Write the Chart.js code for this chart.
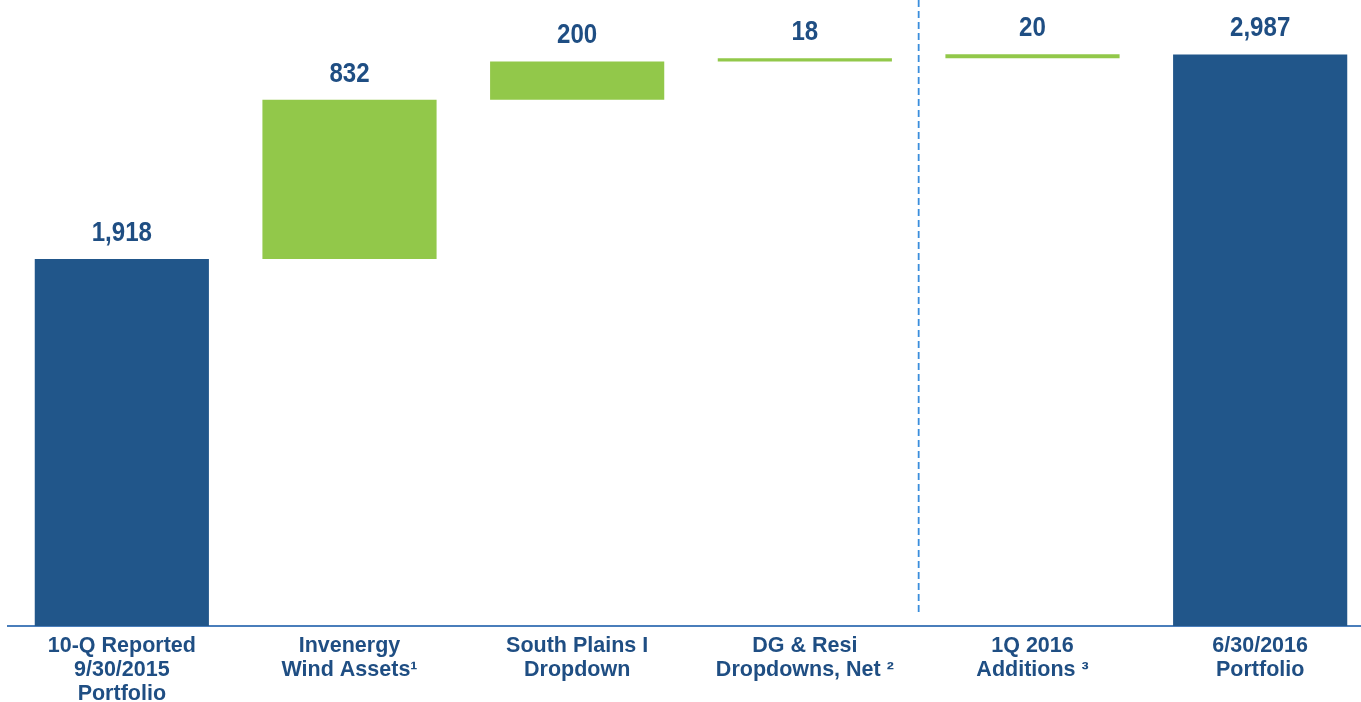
<!DOCTYPE html>
<html>
<head>
<meta charset="utf-8">
<script src="https://cdn.jsdelivr.net/npm/chart.js@4.4.1/dist/chart.umd.min.js"></script>
<style>
  html, body { margin: 0; padding: 0; background: #ffffff; overflow: hidden; }
  #wrap { position: relative; width: 1361px; height: 702px; overflow: hidden; }
  canvas { display: block; }
</style>
</head>
<body>
<div id="wrap"><canvas id="c" width="1374" height="710"></canvas></div>
<script>
// ---- data ----
const categories = [
  ["10-Q Reported", "9/30/2015", "Portfolio"],
  ["Invenergy", "Wind Assets\u00B9"],
  ["South Plains I", "Dropdown"],
  ["DG & Resi", "Dropdowns, Net \u00B2"],
  ["1Q 2016", "Additions \u00B3"],
  ["6/30/2016", "Portfolio"]
];
const values = [1918, 832, 200, 18, 20, 2987];
const kinds = ["total", "delta", "delta", "delta", "delta", "total"];
const valueLabels = ["1,918", "832", "200", "18", "20", "2,987"];

// build floating ranges (waterfall)
const ranges = [];
let running = 0;
values.forEach((v, i) => {
  if (kinds[i] === "total") { ranges.push([0, v]); running = v; }
  else { ranges.push([running, running + v]); running += v; }
});

const BLUE = "#21568A";
const GREEN = "#92C84A";
const TEXT = "#1F4E83";
const FONT = "'Liberation Sans', Arial, sans-serif";

const labelPlugin = {
  id: "valueLabels",
  afterDatasetsDraw(chart) {
    const ctx = chart.ctx;
    const meta = chart.getDatasetMeta(0);
    ctx.save();
    ctx.fillStyle = TEXT;
    ctx.font = "bold 28px " + FONT;
    ctx.textAlign = "center";
    ctx.textBaseline = "middle";
    meta.data.forEach((bar, i) => {
      const top = Math.min(bar.y, bar.base);
      ctx.save();
      ctx.translate(bar.x, top - 26);
      ctx.scale(0.86, 1);
      ctx.fillText(valueLabels[i], 0, 0);
      ctx.restore();
    });
    ctx.restore();
  }
};

const dividerPlugin = {
  id: "divider",
  beforeDatasetsDraw(chart) {
    const x = chart.scales.x;
    const px = (x.getPixelForValue(3) + x.getPixelForValue(4)) / 2;
    const ctx = chart.ctx;
    ctx.save();
    ctx.strokeStyle = "#3A8EDC";
    ctx.lineWidth = 1.8;
    ctx.setLineDash([7, 4]);
    ctx.beginPath();
    ctx.moveTo(px, 0);
    ctx.lineTo(px, chart.chartArea.bottom - 14);
    ctx.stroke();
    ctx.restore();
  }
};

new Chart(document.getElementById("c"), {
  type: "bar",
  data: {
    labels: categories,
    datasets: [{
      data: ranges,
      backgroundColor: kinds.map(k => k === "total" ? BLUE : GREEN),
      borderWidth: 0,
      categoryPercentage: 1.0,
      barPercentage: 0.765,
      borderSkipped: false
    }]
  },
  options: {
    responsive: false,
    animation: false,
    devicePixelRatio: 1,
    layout: { padding: { left: 8, right: 0, top: 0, bottom: 0 } },
    plugins: { legend: { display: false }, tooltip: { enabled: false } },
    scales: {
      x: {
        grid: { display: false, drawTicks: false },
        border: { display: true, color: "#4A7EBB", width: 2 },
        ticks: {
          color: TEXT,
          font: { family: FONT, size: 21.5, weight: "bold", lineHeight: "24px" },
          padding: 8,
          maxRotation: 0,
          autoSkip: false
        },
        afterFit(scale) { scale.height = 84; }
      },
      y: {
        display: false,
        min: 0,
        max: 3272
      }
    }
  },
  plugins: [dividerPlugin, labelPlugin]
});
</script>
</body>
</html>
